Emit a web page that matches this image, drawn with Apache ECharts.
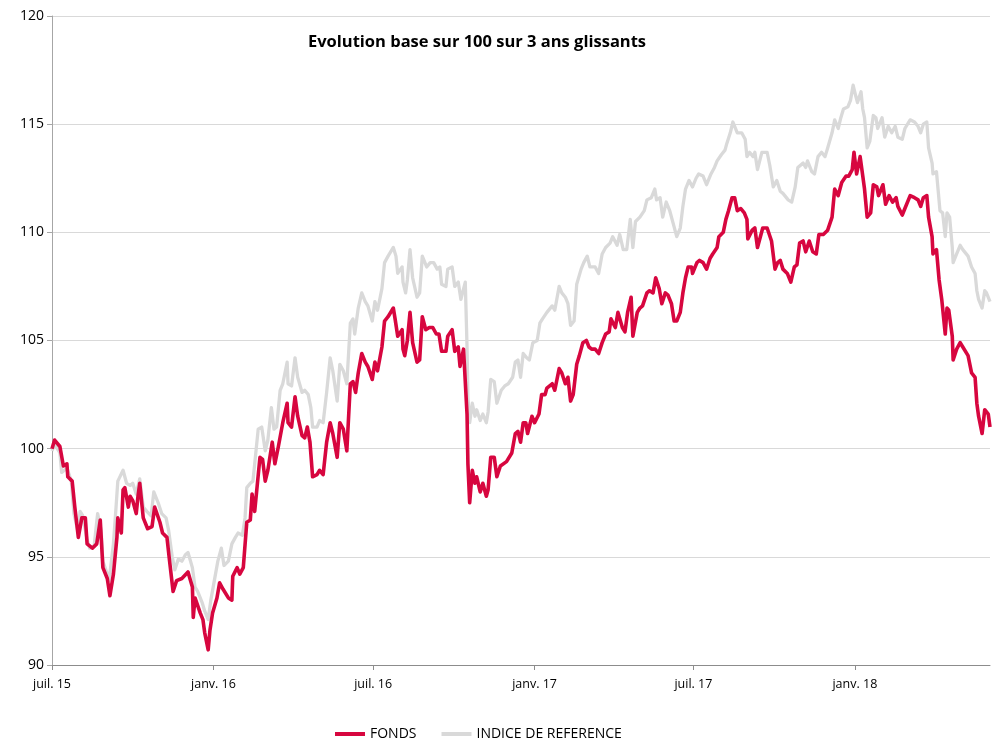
<!DOCTYPE html>
<html>
<head>
<meta charset="utf-8">
<script src="https://cdn.jsdelivr.net/npm/echarts@6/dist/echarts.min.js"></script>
<style>
html,body{margin:0;padding:0;background:#fff;}
#chart{width:998px;height:743px;}
</style>
</head>
<body>
<div id="chart"></div>
<script>
// Dates are given as day offsets from 1 July 2015
const startYear = 2015, startMonth = 6, startDay = 1;
const axisEndDay = 1069;

const fondsDays = [0,3,9,13,17,18,23,26,30,34,38,40,46,51,55,58,63,66,70,74,75,79,81,83,87,89,92,96,98,100,104,109,114,117,123,126,131,134,138,142,148,155,160,161,163,169,172,174,178,180,183,188,191,195,201,205,206,211,214,218,222,226,228,231,237,240,243,246,251,254,258,263,268,269,273,277,280,285,288,291,294,297,302,305,309,313,317,320,325,328,332,336,340,343,346,349,353,357,360,365,368,371,376,379,383,389,391,394,399,400,402,405,408,411,416,419,422,426,430,434,438,441,444,449,451,456,459,463,465,469,473,474,476,479,482,484,488,491,495,497,500,504,507,511,518,524,528,531,534,537,540,542,547,550,555,558,562,564,570,573,578,581,585,588,591,594,598,601,605,609,612,615,619,623,627,631,635,637,642,645,650,653,656,660,662,667,670,673,678,681,685,688,692,695,699,702,706,709,712,716,719,722,725,729,730,735,738,742,746,750,753,758,760,765,768,771,775,778,781,785,789,792,793,798,801,804,810,815,820,824,827,830,833,838,842,846,849,852,856,859,863,867,871,874,879,884,889,892,896,900,905,908,912,914,917,921,924,926,929,933,936,940,942,947,950,954,958,962,964,969,972,978,983,987,990,993,997,999,1003,1004,1008,1011,1014,1016,1018,1020,1022,1026,1027,1031,1035,1038,1044,1048,1052,1054,1056,1060,1063,1067,1069];
const fondsValues = [100.0,100.4,100.1,99.2,99.3,98.7,98.5,97.3,95.9,96.8,96.8,95.6,95.4,95.6,96.7,94.5,94.0,93.2,94.2,95.9,96.8,96.1,98.1,98.2,97.3,97.8,97.6,97.0,97.8,98.4,96.8,96.3,96.4,97.3,96.6,96.1,95.9,94.8,93.4,93.9,94.0,94.3,93.6,92.2,93.1,92.4,92.1,91.5,90.7,91.6,92.4,93.1,93.8,93.5,93.1,93.0,94.1,94.5,94.2,94.5,96.6,96.7,97.9,97.1,99.6,99.5,98.5,99.0,100.3,99.3,100.1,101.2,102.1,101.2,101.0,102.4,101.5,100.6,100.5,101.0,100.3,98.7,98.8,99.0,98.8,100.3,101.2,100.7,99.6,101.2,100.9,99.9,103.0,103.1,102.6,103.5,104.4,104.0,103.8,103.2,104.0,103.6,104.7,105.9,106.1,106.5,106.0,105.2,105.5,104.6,104.3,105.0,106.3,104.9,104.0,104.1,106.1,105.5,105.6,105.6,105.3,105.3,104.5,104.5,105.2,105.5,104.5,104.7,103.8,104.6,101.6,99.3,97.5,99.0,98.4,98.7,98.0,98.4,97.8,98.1,99.6,99.6,98.7,99.2,99.4,99.8,100.7,100.8,100.3,101.2,101.2,100.7,101.5,101.2,101.6,102.5,102.5,102.8,103.0,102.7,103.7,103.5,103.0,103.3,102.2,102.5,103.9,104.3,104.9,105.0,104.7,104.6,104.6,104.4,104.9,105.3,105.4,106.0,105.6,106.3,105.6,105.4,106.3,107.0,105.2,106.3,106.5,106.6,107.2,107.3,107.2,107.9,107.4,106.7,107.2,107.1,106.7,105.9,105.9,106.3,107.2,107.9,108.4,108.4,108.1,108.6,108.7,108.6,108.3,108.8,109.0,109.3,109.8,110.0,110.6,111.0,111.6,111.6,111.0,111.1,110.9,110.6,109.7,110.1,110.2,109.3,110.2,110.2,109.6,108.3,108.6,108.7,108.3,108.1,107.7,108.4,108.5,109.5,109.6,109.1,109.6,109.1,109.0,109.9,109.9,110.1,110.7,112.0,111.7,112.3,112.6,112.6,112.9,113.7,112.7,113.5,112.6,112.0,110.7,110.9,112.2,112.1,111.7,112.2,111.3,111.7,111.4,111.6,111.2,110.8,111.1,111.7,111.6,111.5,111.2,111.6,111.7,110.7,109.8,109.0,109.2,107.8,106.9,106.9,105.3,106.5,106.4,105.2,104.1,104.6,104.9,104.7,104.3,103.5,103.3,102.1,101.5,100.7,101.8,101.6,101.0];

const indiceDays = [0,3,9,11,17,22,25,30,32,35,40,43,48,52,56,58,63,65,70,73,75,77,81,85,89,92,96,100,104,108,113,116,121,125,130,133,137,140,144,148,152,155,160,163,166,171,174,178,181,185,189,193,196,201,205,209,212,217,220,222,226,229,231,235,239,243,246,250,253,256,260,263,268,269,273,277,280,285,288,292,295,297,302,305,309,313,317,320,325,328,332,336,340,343,345,349,353,357,360,365,368,371,376,379,383,389,392,394,399,400,403,405,408,411,416,419,422,427,431,435,439,442,444,449,451,456,459,463,466,471,473,474,476,479,482,484,488,491,495,497,500,504,507,512,516,520,525,528,531,534,537,541,544,548,553,556,559,564,570,573,578,581,585,588,591,595,598,603,606,610,613,619,623,627,631,636,639,644,647,651,655,659,662,665,670,675,678,683,687,689,693,696,700,704,708,712,716,719,722,726,730,734,737,742,746,751,755,758,763,767,769,773,776,781,786,790,792,795,799,801,804,809,815,818,822,826,830,833,839,843,847,850,856,859,861,866,869,873,877,881,884,889,892,896,899,902,907,910,913,916,918,922,924,926,929,932,936,939,941,946,949,953,957,961,964,969,972,978,983,987,990,993,997,999,1003,1004,1008,1012,1015,1018,1020,1023,1026,1027,1031,1035,1038,1044,1048,1052,1054,1056,1060,1063,1065,1069];
const indiceValues = [99.9,100.2,99.8,98.9,99.1,98.5,97.0,96.1,97.1,96.9,95.8,95.4,95.5,97.0,96.2,94.8,94.2,93.9,95.6,97.3,98.5,98.5,99.0,98.4,98.3,98.4,97.9,98.6,97.3,97.1,96.9,98.0,97.5,97.0,96.8,96.2,95.0,94.4,94.9,94.8,95.1,95.2,94.5,93.6,93.4,92.9,92.5,92.1,93.0,93.9,94.8,95.4,94.6,94.8,95.6,95.9,96.1,96.0,96.8,98.2,98.4,98.5,99.3,100.9,101.0,99.9,100.4,101.9,100.9,101.0,102.7,103.0,104.0,103.0,102.9,104.2,103.3,102.6,102.7,102.5,101.9,101.0,101.0,101.3,101.2,102.6,104.2,103.6,102.2,103.9,103.6,103.0,105.8,106.0,105.3,106.5,107.2,106.8,106.6,105.9,106.8,106.4,107.4,108.6,108.9,109.3,108.9,108.1,108.4,107.7,107.2,107.8,109.2,107.9,107.0,107.2,108.9,108.4,108.6,108.6,108.3,108.4,107.6,107.5,108.3,108.4,107.5,107.7,106.9,107.7,104.7,102.4,101.2,102.1,101.5,101.8,101.3,101.6,101.2,101.7,103.2,103.1,102.1,102.7,102.9,103.0,103.3,104.0,104.1,103.3,104.4,104.2,104.1,104.9,105.0,105.8,106.0,106.3,106.6,106.4,107.5,107.2,107.0,106.7,105.7,105.9,107.6,108.3,108.6,108.9,108.4,108.4,108.1,109.0,109.3,109.5,109.8,109.4,109.9,109.2,109.2,110.6,109.3,110.5,110.7,111.0,111.5,111.6,112.0,111.5,111.6,110.7,111.4,111.0,110.4,109.8,110.2,111.2,112.0,112.4,112.1,112.5,112.7,112.6,112.2,112.7,113.0,113.3,113.6,113.8,114.1,114.6,115.1,114.6,114.6,114.3,113.5,113.7,113.5,113.7,112.9,113.7,113.7,113.1,112.1,112.4,111.9,111.8,111.5,111.4,112.1,113.0,113.2,113.0,113.3,112.8,112.7,113.5,113.7,113.5,113.9,114.6,115.2,114.8,115.3,115.7,115.8,116.1,116.8,116.3,116.0,116.5,115.7,115.3,113.9,114.2,115.4,115.3,114.8,115.3,114.4,114.9,114.6,114.9,114.4,114.3,114.8,115.2,115.1,114.9,114.6,115.0,115.1,113.9,113.2,112.7,112.8,111.0,110.9,109.8,110.9,110.7,109.3,108.6,109.0,109.4,109.2,108.9,108.4,108.1,107.3,106.9,106.5,107.3,107.2,106.8];

const tickDays = [0,184,366,550,731,915];
const monthNames = ['janv.','févr.','mars','avr.','mai','juin','juil.','août','sept.','oct.','nov.','déc.'];
const titleText = 'Evolution base sur 100 sur 3 ans glissants';
const yTicks = {min: 90, max: 120, interval: 5};

function dayLabel(d){
  const dt = new Date(startYear, startMonth, startDay + Math.round(d));
  return monthNames[dt.getMonth()] + ' ' + String(dt.getFullYear()).slice(2);
}
function pairs(days, vals){ return days.map((d,i)=>[d, vals[i]]); }

const chart = echarts.init(document.getElementById('chart'), null, {renderer:'canvas'});
const FONT = '"Open Sans", "Noto Sans", sans-serif';
chart.setOption({
  animation: false,
  backgroundColor: '#ffffff',
  title: {
    text: titleText,
    left: 472, top: 29, textAlign: 'center',
    textStyle: {fontFamily: FONT, fontSize: 16.5, fontWeight: 'bold', color: '#000'}
  },
  legend: {
    top: 727, left: 335,
    data: ['FONDS','INDICE DE REFERENCE'],
    itemWidth: 30, itemHeight: 4, itemGap: 25,
    icon: 'rect', padding: 0,
    textStyle: {fontFamily: FONT, fontSize: 14, color: '#000'}
  },
  grid: {left: 52, right: 8, top: 16, bottom: 78, containLabel: false, outerBoundsMode: 'none'},
  xAxis: {
    type: 'value',
    min: 0, max: axisEndDay,
    axisLine: {show: true, onZero: false, lineStyle: {color: '#8C8C8C', width: 1}},
    axisTick: {show: true, length: 5, lineStyle: {color: '#8C8C8C'}, customValues: tickDays},
    splitLine: {show: false},
    axisLabel: {
      customValues: tickDays,
      margin: 13,
      fontFamily: FONT, fontSize: 12.5, color: '#000',
      formatter: function(v){ return dayLabel(v); }
    }
  },
  yAxis: {
    type: 'value', min: yTicks.min, max: yTicks.max, interval: yTicks.interval,
    axisLine: {show: true, lineStyle: {color: '#A6A6A6', width: 1}},
    axisTick: {show: true, length: 5, lineStyle: {color: '#A6A6A6'}},
    splitLine: {show: true, lineStyle: {color: '#D9D9D9', width: 1}},
    axisLabel: {fontFamily: FONT, fontSize: 14, color: '#000', margin: 8}
  },
  series: [
    {
      name: 'INDICE DE REFERENCE', type: 'line', data: pairs(indiceDays, indiceValues),
      showSymbol: false, symbol: 'none', z: 2,
      itemStyle: {color: '#D9D9D9'},
      lineStyle: {color: '#D9D9D9', width: 3.3, join: 'round'}
    },
    {
      name: 'FONDS', type: 'line', data: pairs(fondsDays, fondsValues),
      showSymbol: false, symbol: 'none', z: 3,
      itemStyle: {color: '#D7063F'},
      lineStyle: {color: '#D7063F', width: 3.6, join: 'round'}
    }
  ]
});
</script>
</body>
</html>
